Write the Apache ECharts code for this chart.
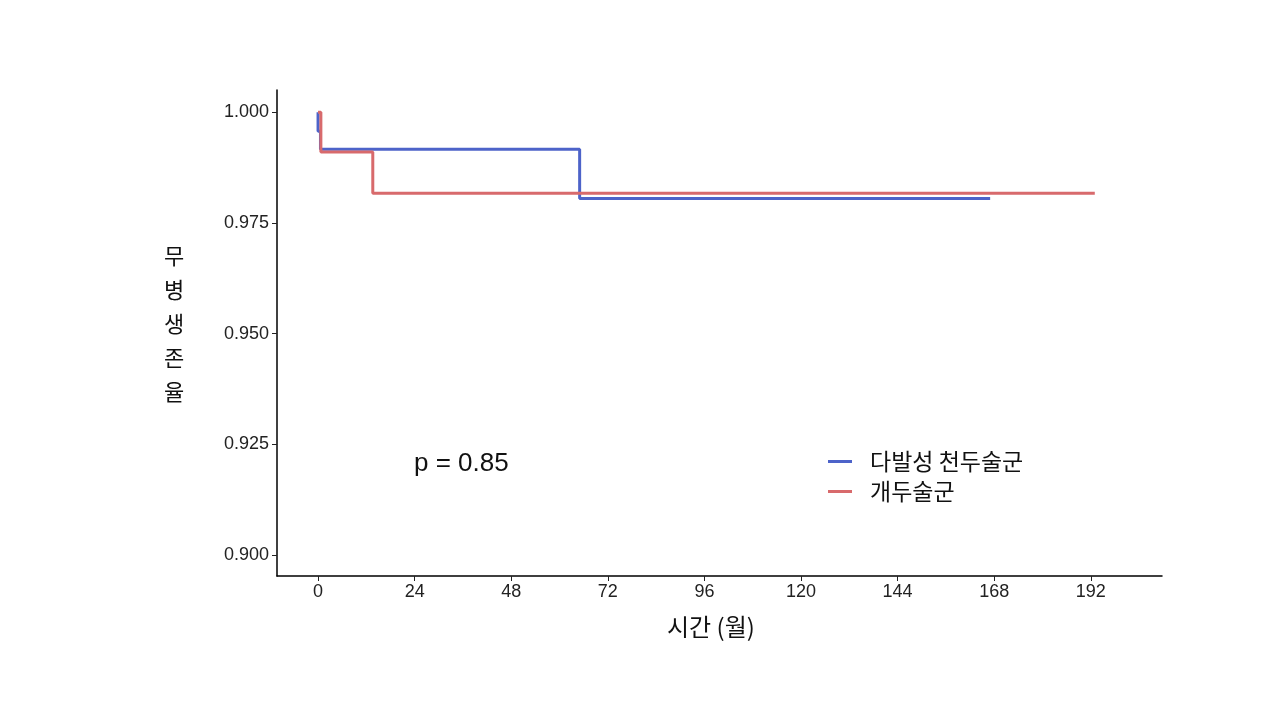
<!DOCTYPE html>
<html><head><meta charset="utf-8">
<script src="https://cdn.jsdelivr.net/npm/echarts@6/dist/echarts.min.js"></script>
<style>html,body{margin:0;padding:0;background:#fff}#c{width:1280px;height:720px}</style>
</head><body><div id="c"></div>
<script>
const xTicks = [0, 24, 48, 72, 96, 120, 144, 168, 192];
const yTicks = [0.900, 0.925, 0.950, 0.975, 1.000];
const seriesNames = ['다발성 천두술군', '개두술군'];
const blueTimes = [0, 0, 0.6, 65, 167];
const blueSurv = [1.000, 0.9957, 0.9916, 0.9805, 0.9805];
const redTimes = [0, 0.7, 13.6, 193];
const redSurv = [1.000, 0.991, 0.9817, 0.9817];
const pText = 'p = 0.85';
const xTitle = '시간 (월)';
const yTitle = '무병생존율';

const chart = echarts.init(document.getElementById('c'));
const font = 'Liberation Sans, Arial, sans-serif';
const kfont = '"Noto Sans CJK KR", sans-serif';
chart.setOption({
  animation: false,
  backgroundColor: '#fff',
  grid: {left: 277, top: 90, right: 118, bottom: 144},
  legend: {
    orient: 'vertical', left: 823, top: 445, itemWidth: 24, itemHeight: 3, itemGap: 7,
    icon: 'rect',
    textStyle: {fontFamily: kfont, fontSize: 23, color: '#111', padding: [0, 0, 0, 13]},
    data: seriesNames
  },
  xAxis: {
    type: 'value', min: -10.2, max: 209.7,
    splitLine: {show: false},
    axisLine: {onZero: false, lineStyle: {color: '#000', width: 1.5}},
    axisTick: {length: 5, lineStyle: {color: '#222'}, customValues: xTicks},
    axisLabel: {customValues: xTicks, fontFamily: font, fontSize: 18, color: '#222', margin: 7}
  },
  yAxis: {
    type: 'value', min: 0.8953, max: 1.005,
    splitLine: {show: false},
    axisLine: {show: true, onZero: false, lineStyle: {color: '#000', width: 1.5}},
    axisTick: {show: true, length: 5, lineStyle: {color: '#222'}, customValues: yTicks},
    axisLabel: {customValues: yTicks, fontFamily: font, fontSize: 18, color: '#222', margin: 8,
      formatter: v => v.toFixed(3)}
  },
  graphic: [
    {type: 'text', left: 414, top: 451, style: {text: pText, font: '26px Liberation Sans, Arial, sans-serif', fill: '#111'}},
    {type: 'text', left: 667, top: 615, style: {text: xTitle, font: '24px "Noto Sans CJK KR", sans-serif', fill: '#111'}},
    {type: 'text', left: 164, top: 239, style: {text: yTitle.split('').join('\n'), font: '22px "Noto Sans CJK KR", sans-serif', lineHeight: 34, fill: '#111', align: 'center'}}
  ],
  series: [
    {name: seriesNames[0], type: 'line', step: 'end', showSymbol: false,
     lineStyle: {color: '#4d63c9', width: 3}, itemStyle: {color: '#4d63c9'},
     data: blueTimes.map((t, i) => [t, blueSurv[i]])},
    {name: seriesNames[1], type: 'line', step: 'end', showSymbol: false,
     lineStyle: {color: '#d86a6c', width: 3}, itemStyle: {color: '#d86a6c'},
     data: redTimes.map((t, i) => [t, redSurv[i]])}
  ]
});
</script></body></html>
